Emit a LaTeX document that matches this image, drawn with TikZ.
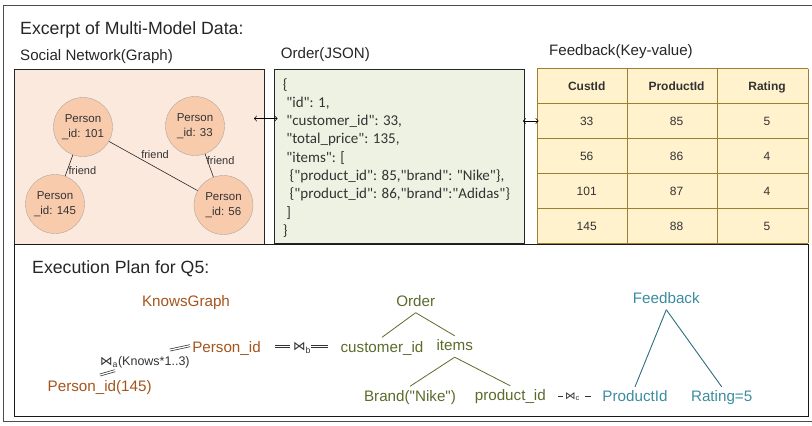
\documentclass[tikz,border=0pt]{standalone}
\usepackage{fontspec}
\setmainfont{Liberation Sans}[Ligatures=TeXOff]
\newfontfamily\jsonfont{Carlito}[Ligatures=TeXOff]
\newfontfamily\bowfont{DejaVu Sans}
\usetikzlibrary{arrows.meta}
\definecolor{graphbg}{HTML}{FBE9DD}
\definecolor{personfill}{HTML}{F8CBAD}
\definecolor{persondraw}{HTML}{B0A59E}
\definecolor{jsonbg}{HTML}{EEF2E3}
\definecolor{tablebg}{HTML}{FFF2CC}
\definecolor{tableline}{HTML}{9E7F2E}
\definecolor{kgcol}{HTML}{A5541C}
\definecolor{ordcol}{HTML}{5B6B2B}
\definecolor{fbcol}{HTML}{3C8CA0}
\definecolor{fbline}{HTML}{2F6D7C}
\definecolor{ink}{HTML}{333333}
\newcommand\jind{\hspace*{3.4pt}}
\begin{document}
\begin{tikzpicture}[x=1pt,y=-1pt,
  title/.style={font=\fontsize{17.7}{20}\selectfont, anchor=base west, inner sep=0pt, text=black!85},
  subtitle/.style={font=\fontsize{15.1}{18}\selectfont, anchor=base west, inner sep=0pt, text=black!85},
  panel/.style={draw=black!85, line width=0.8pt},
  person/.style={circle, draw=persondraw, fill=personfill, minimum size=59pt, inner sep=0pt,
    align=center, font=\fontsize{11.5}{15}\selectfont, text=ink},
  rel/.style={draw=black!85, line width=0.6pt},
  rellabel/.style={font=\fontsize{11}{13}\selectfont, text=ink, inner sep=0pt},
  headcell/.style={font=\bfseries\fontsize{12}{14}\selectfont, text=ink, text height=8.6pt, text depth=0pt, inner sep=0pt},
  cell/.style={font=\fontsize{12}{14}\selectfont, text=ink, text height=8.6pt, text depth=0pt, inner sep=0pt},
  link/.style={draw=black, line width=0.5pt,
    {Straight Barb[length=2.5pt,width=5.5pt]}-{Straight Barb[length=2.5pt,width=5.5pt]}},
  planlbl/.style={font=\fontsize{15.2}{18}\selectfont, text height=11pt, text depth=3pt, inner sep=3.5pt},
  kg/.style={planlbl, text=kgcol},
  ord/.style={planlbl, text=ordcol},
  fb/.style={planlbl, text=fbcol},
  dbl/.style={draw=black!80, line width=0.7pt, double=white, double distance=1.3pt},
  joinlbl/.style={font=\fontsize{12.5}{15}\selectfont, text=ink, inner sep=0pt},
]
\useasboundingbox (0,0) rectangle (812,426);

% outer frame
\draw[draw=black!70, line width=1pt] (816,5) -- (3,5) -- (3,421.5) -- (816,421.5);

% headings
\node[title] (ttl) at (20,34) {Excerpt of Multi-Model Data:};
\node[subtitle] (tgraph) at (20,60) {Social Network(Graph)};
\node[subtitle] (tjson) at (280.7,58) {Order(JSON)};
\node[subtitle] (tkv) at (549,55.7) {Feedback(Key-value)};

% graph panel
\draw[panel, fill=graphbg] (14.3,69.3) rectangle (264,244);
\node[person] (p101) at (83,127) {Person\\\_id: 101};
\node[person] (p33) at (195,126) {Person\\\_id: 33};
\node[person] (p145) at (55,204) {Person\\\_id: 145};
\node[person] (p56) at (223.5,205) {Person\\\_id: 56};
\draw[rel] (p101) -- (p145) node[rellabel, pos=0.72, anchor=west, xshift=1pt] {friend};
\draw[rel] (p101) -- (p56) node[rellabel, pos=0.52, above=8pt] {friend};
\draw[rel] (p33) -- (p56) node[rellabel, pos=0.3, anchor=west, xshift=-1pt] {friend};

% JSON panel
\draw[panel, fill=jsonbg] (274,69.3) rectangle (524,243.5);
\node[anchor=north west, inner sep=0pt, align=left, text=ink,
      font=\jsonfont\fontsize{15}{18.3}\selectfont] (json) at (282.7,78)
  {\{\\
   \jind"id": 1,\\
   \jind"customer\_id": 33,\\
   \jind"total\_price": 135,\\
   \jind"items": [\\
   \jind\jind\{"product\_id": 85,"brand": "Nike"\},\\
   \jind\jind\{"product\_id": 86,"brand":"Adidas"\}\\
   \jind]\\
   \}};

% key-value table
\fill[tablebg] (537.3,68.7) rectangle (808,243.3);
\foreach \yy in {68.7,103.3,138.7,173.3,208.3,243.3}
  \draw[tableline, line width=0.9pt] (537.3,\yy) -- (808,\yy);
\foreach \xx in {537.3,627.3,717.7,808}
  \draw[tableline, line width=0.9pt] (\xx,68.7) -- (\xx,243.3);
\node[headcell] (hc) at (586.7,85.7) {CustId};
\node[headcell] (hp) at (676.5,85.7) {ProductId};
\node[headcell] (hr) at (767,85.7) {Rating};
\foreach \c/\p/\r/\yy [count=\i] in {33/85/5/121, 56/86/4/156, 101/87/4/191, 145/88/5/226} {
  \node[cell] (c\i) at (586.7,\yy) {\c};
  \node[cell] (q\i) at (676.5,\yy) {\p};
  \node[cell] (r\i) at (767,\yy) {\r};
}

% links between the data models
\coordinate (la) at (254,118.5);
\coordinate (lb) at (277.5,118.5);
\coordinate (lc) at (523,121);
\coordinate (ld) at (538.5,121);
\draw[link] (la) -- (lb);
\draw[link] (lc) -- (ld);

% execution plan panel
\draw[draw=black!90, line width=0.9pt] (14.3,244) rectangle (808,416.5);
\node[title] (tplan) at (32,273.3) {Execution Plan for Q5:};

% graph part of the plan
\node[kg] (kgraph) at (186,302) {KnowsGraph};
\node[kg] (pA) at (226.5,348) {Person\_id};
\node[kg] (pB) at (99.7,387) {Person\_id(145)};
\node[joinlbl, anchor=west] (ja) at (100,362) {{\bowfont ⋈}\textsubscript{a}(Knows*1..3)};
\coordinate (ja1) at (170,350);
\coordinate (ja2) at (190,345.7);
\coordinate (jb1) at (100,375);
\coordinate (jb2) at (115,370.7);
\draw[dbl] (ja1) -- (ja2);
\draw[dbl] (jb1) -- (jb2);

% join with the document model
\node[joinlbl] (jb) at (302,348) {{\bowfont ⋈}\textsubscript{b}};
\coordinate (b1) at (275,346.7);
\coordinate (b2) at (290,346.7);
\coordinate (b3) at (311,346.7);
\coordinate (b4) at (328.3,346.7);
\draw[dbl] (b1) -- (b2);
\draw[dbl] (b3) -- (b4);

% document tree
\node[ord] (oroot) at (415.7,302) {Order};
\node[ord] (cid) at (382,348) {customer\_id};
\node[ord] (items) at (454.7,346.5) {items};
\node[ord] (brand) at (410,397) {Brand("Nike")};
\node[ord] (prod) at (510.3,396.5) {product\_id};
\draw[ordcol, line width=0.8pt] (oroot.south) -- (cid.north);
\draw[ordcol, line width=0.8pt] (oroot.south) -- (items.north);
\draw[ordcol, line width=0.8pt] (items.south) -- (brand.north);
\draw[ordcol, line width=0.8pt] (items.south) -- (prod.north);

% join with the key-value model
\node[joinlbl, font=\fontsize{10.5}{12}\selectfont] (jc) at (572.5,396.5) {{\bowfont ⋈}\textsubscript{c}};
\coordinate (c1) at (558,395.7);
\coordinate (c2) at (563,395.7);
\coordinate (c3) at (585,395.7);
\coordinate (c4) at (590.7,395.7);
\draw[dbl, line width=0.5pt, double distance=1pt] (c1) -- (c2);
\draw[dbl, line width=0.5pt, double distance=1pt] (c3) -- (c4);

% key-value tree
\node[fb] (fbroot) at (666.3,299) {Feedback};
\node[fb] (pidf) at (635,397.5) {ProductId};
\node[fb] (rating) at (721.7,397.5) {Rating=5};
\draw[fbline, line width=0.9pt] (fbroot.south) -- (pidf.north);
\draw[fbline, line width=0.9pt] (fbroot.south) -- (rating.north);
\end{tikzpicture}
\end{document}
